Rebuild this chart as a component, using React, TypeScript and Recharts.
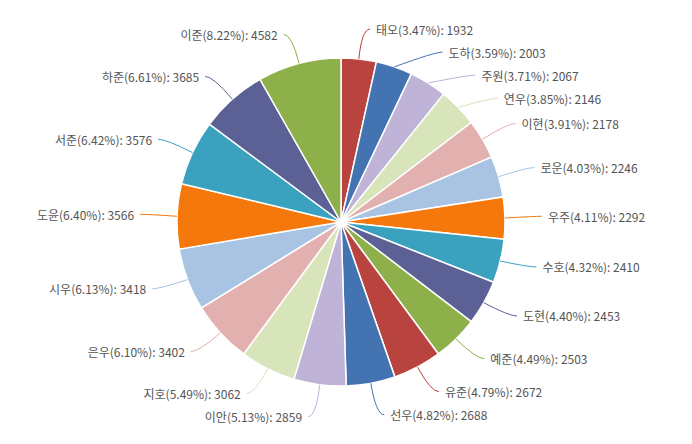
import { PieChart, Pie, Cell } from 'recharts'

const names = [
  '태오', '도하', '주원', '연우', '이현', '로운', '우주', '수호', '도현', '예준',
  '유준', '선우', '이안', '지호', '은우', '시우', '도윤', '서준', '하준', '이준',
]
const counts = [
  1932, 2003, 2067, 2146, 2178, 2246, 2292, 2410, 2453, 2503,
  2672, 2688, 2859, 3062, 3402, 3418, 3566, 3576, 3685, 4582,
]
const palette = [
  '#B9433F', '#4473B2', '#BFB3D8', '#D8E4BA', '#E2B0AE',
  '#A8C4E2', '#F5780C', '#3AA1BF', '#5B6195', '#8DB04A',
]

const data = names.map((name, i) => ({ name, value: counts[i] }))

const RAD = Math.PI / 180
const GAP = 23
const LEN1 = 29
const LEN2 = 8
const LIFT = 1

// spread labels on each side so they don't overlap (roughly like echarts does)
function layoutLabels(cx: number, cy0: number, r: number) {
  const cy = cy0 - LIFT
  const total = counts.reduce((a, b) => a + b, 0)
  const R1 = r + LEN1
  let acc = 0
  const items = counts.map((v, i) => {
    const mid = ((acc + v / 2) / total) * 360
    acc += v
    return {
      i,
      right: mid < 180,
      y: cy - R1 * Math.cos(mid * RAD),
      x: cx + R1 * Math.sin(mid * RAD),
    }
  })
  ;[true, false].forEach((side) => {
    const list = items.filter((d) => d.right === side).sort((a, b) => a.y - b.y)
    for (let k = 1; k < list.length; k++) {
      if (list[k].y < list[k - 1].y + GAP) list[k].y = list[k - 1].y + GAP
    }
  })
  items.forEach((d) => {
    const dy = d.y - cy
    if (Math.abs(dy) < R1) {
      const dx = Math.sqrt(R1 * R1 - dy * dy)
      d.x = d.right ? cx + dx : cx - dx
    }
  })
  const out: { x: number; y: number; right: boolean }[] = []
  items.forEach((d) => (out[d.i] = { x: d.x, y: d.y, right: d.right }))
  return out
}

function renderLabel(props: any) {
  const { cx, cy, outerRadius, midAngle, index, percent, name, value } = props
  const pos = layoutLabels(cx, cy, outerRadius)[index]
  const x0 = cx + outerRadius * Math.cos(-midAngle * RAD)
  const y0 = cy + outerRadius * Math.sin(-midAngle * RAD)
  const x2 = pos.right ? pos.x + LEN2 : pos.x - LEN2
  const color = palette[index % palette.length]
  return (
    <g key={`lbl-${index}`}>
      <path
        d={`M${x0},${y0} Q${pos.x},${pos.y} ${x2},${pos.y}`}
        stroke={color}
        strokeWidth={1}
        fill="none"
      />
      <text
        x={pos.right ? x2 + 6 : x2 - 6}
        y={pos.y}
        textAnchor={pos.right ? 'start' : 'end'}
        dominantBaseline="central"
        fill="#555"
        fontSize={12}
      >
        {`${name}(${(percent * 100).toFixed(2)}%): ${value}`}
      </text>
    </g>
  )
}

export default function App() {
  return (
    <div style={{ position: 'absolute', left: 0, top: 0, background: '#fff' }}>
      <PieChart
        width={692}
        height={444}
        margin={{ top: 0, right: 0, bottom: 0, left: 0 }}
        style={{ fontFamily: '"Noto Sans CJK KR", "Noto Sans", sans-serif' }}
      >
        <Pie
          data={data}
          dataKey="value"
          nameKey="name"
          cx={341}
          cy={222}
          outerRadius={164}
          startAngle={90}
          endAngle={-270}
          stroke="#fff"
          strokeWidth={1.5}
          label={renderLabel}
          labelLine={false}
          isAnimationActive={false}
        >
          {data.map((d, i) => (
            <Cell key={d.name} fill={palette[i % palette.length]} />
          ))}
        </Pie>
      </PieChart>
    </div>
  )
}
